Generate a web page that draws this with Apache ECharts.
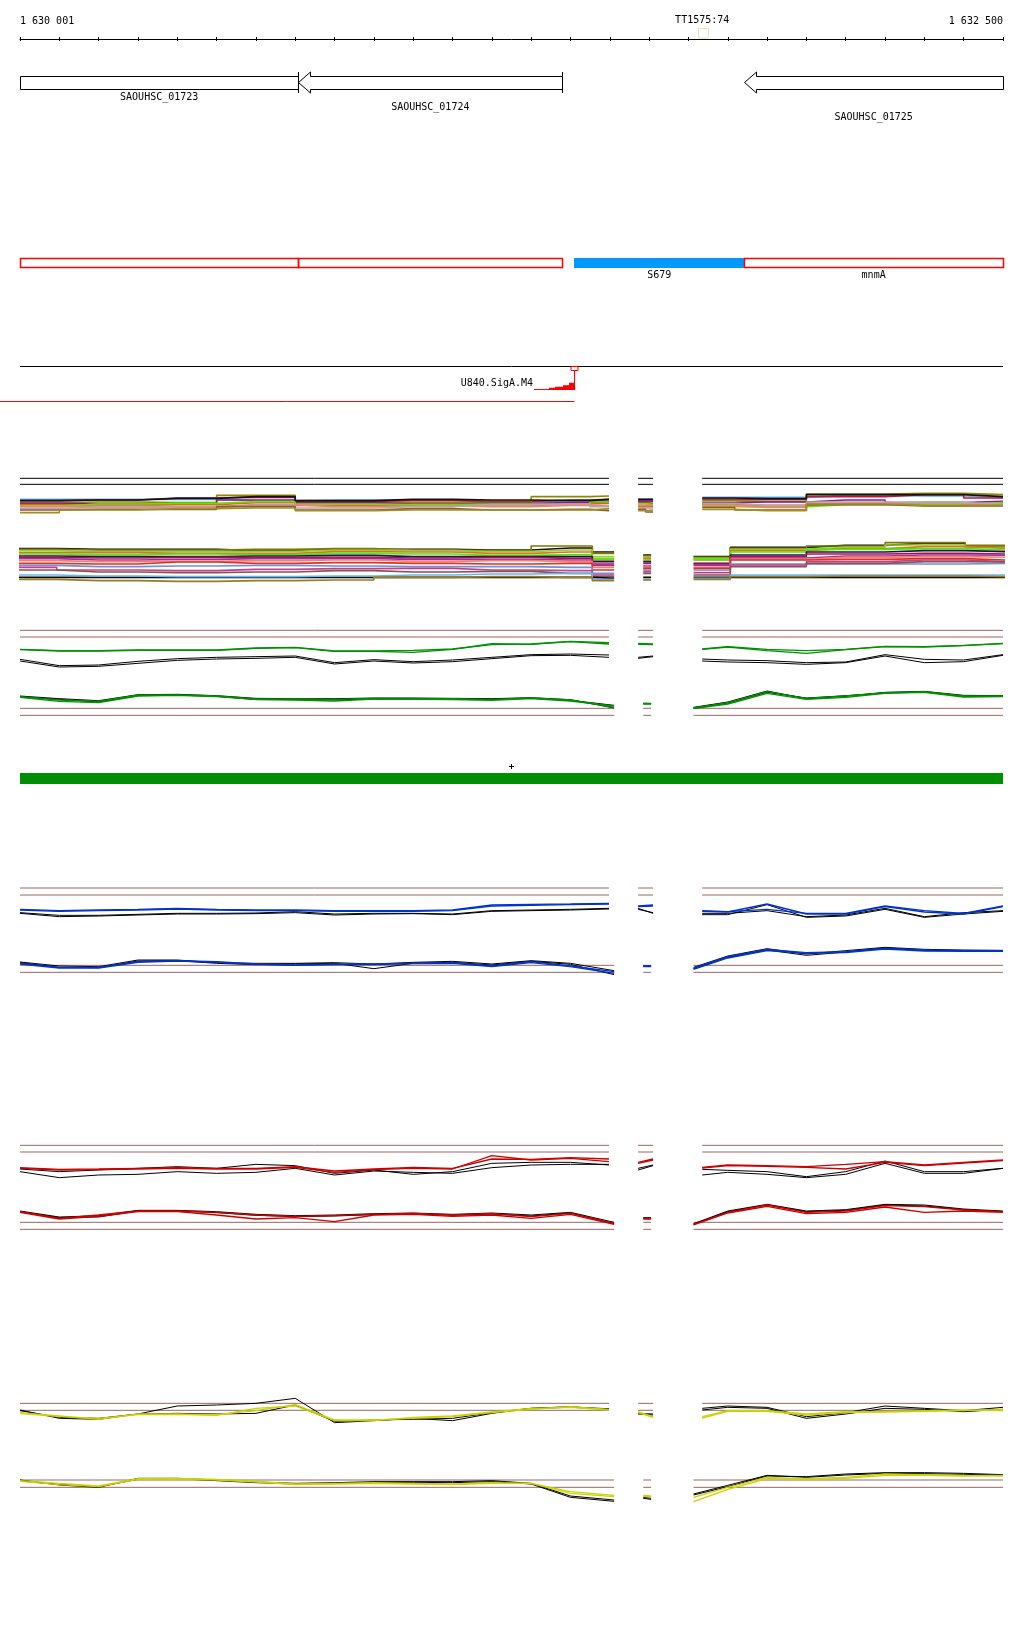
<!DOCTYPE html>
<html><head><meta charset="utf-8">
<script src="https://cdn.jsdelivr.net/npm/echarts/dist/echarts.min.js"></script>
<style>html,body{margin:0;padding:0;background:#fff}#c{width:1024px;height:1640px}</style>
</head><body><div id="c"></div><script>
// ---------- view ----------
const ORIGIN = 1630000;      // axis min (view starts at 1 630 001)
const VIEW_START = 1630001;
const VIEW_END = 1632500;
const TICK_STEP = 100;

// ---------- annotations ----------
const GENE_NAMES  = ['SAOUHSC_01723', 'SAOUHSC_01724', 'SAOUHSC_01725'];
const GENE_START  = [1629700, 1630708, 1631842];
const GENE_END    = [1630708, 1631379, 1632650];
const GENE_STRAND = ['-', '-', '-'];

const FEAT_NAMES = ['', '', 'S679', 'mnmA'];
const FEAT_START = [1629700, 1630708, 1631410, 1631842];
const FEAT_END   = [1630708, 1631379, 1631842, 1632650];
const FEAT_TYPE  = ['cds', 'cds', 'ncRNA', 'cds'];

const TT_NAME = 'TT1575:74';
const TT_POS = 1631735;

const SITE_NAME = 'U840.SigA.M4';
const SITE_POS = 1631408;
const SITE_STEP_BP = [1631308, 1631346, 1631361, 1631382, 1631395, 1631408];
const SITE_STEP_SCORE = [1, 2.3, 3.3, 4.7, 7.3];

// ---------- probe positions (offsets from ORIGIN), segments separated by gaps ----------
const UP_POS = [[0,100,200,300,400,500,600,700,800,900,1000,1100,1200,1300,1400,1498],[1572,1610],[1735,1800,1900,2000,2100,2200,2300,2400,2500]];
const LO_POS = [[0,100,200,300,400,500,600,700,800,900,1000,1100,1200,1300,1400,1511],[1585,1605],[1713,1800,1900,2000,2100,2200,2300,2400,2500]];
const REF_UP_SEGS = [[0,1498],[1572,1610],[1735,2500]];
const REF_LO_SEGS = [[0,1511],[1585,1605],[1713,2500]];
const MC_UP_POS = [[0,200,400,600,800,1000,1200,1400,1498],[1572,1610],[1735,1900,2100,2300,2500]];
const MC_LO_POS = [[-13,200,400,600,800,1000,1200,1400,1511],[1585,1605],[1713,1900,2100,2300,2508]];

// ---------- multi-condition track ----------
const MC_REF = [55, 73];
const MC_UP_COLORS = ['#5ab4f0','#c0143c','#8b8b00','#8b1a8b','#d2691e','#66e000','#f4806b','#b8a0b8','#8b5a2b','#a09020','#111111'];
const mcUp1  = [118,118,118,122,120,120,126,122,120, 118,117, 112,112,106,108,112];
const mcUp2  = [122,120,114,112,124,122,124,120,118, 120,120, 118,118,110,104,114];
const mcUp3  = [128,126,128,106,130,128,128,110,108, 128,130, 122,124,102,100,104];
const mcUp4  = [130,132,132,120,128,132,130,128,126, 124,124, 128,126,120,128,124];
const mcUp5  = [134,136,134,128,136,136,138,132,130, 140,140, 134,136,130,136,130];
const mcUp6  = [138,132,130,125,132,134,132,134,126, 132,134, 132,140,134,132,128];
const mcUp7  = [140,138,140,134,140,138,140,136,138, 136,136, 138,142,130,126,134];
const mcUp8  = [145,142,142,136,144,140,134,132,140, 144,144, 130,136,126,128,132];
const mcUp9  = [150,148,148,140,150,146,150,148,152, 148,156, 142,150,134,138,138];
const mcUp10 = [158,150,146,144,152,150,150,150,146, 152,150, 148,152,132,136,136];
const mcUp11 = [122,120,115,110,122,118,120,122,118, 118,118, 114,116,104,104,110];

const MC_LO_COLORS = ['#111111','#7a7a00','#9acd32','#e0702a','#44ee00','#1a1450','#b0104a','#9b30a0','#f08070','#e03020','#7090d0','#c04090','#8b5050','#000000','#66b8f0','#9a7a20'];
const mcLo1  = [266,268,268,272,268,268,270,264,276, 285,285, 290,262,256,250,258];
const mcLo2  = [268,270,270,268,266,270,272,258,280, 288,288, 292,265,258,248,256];
const mcLo3  = [272,275,275,274,270,272,275,270,290, 292,292, 295,268,262,255,262];
const mcLo4  = [278,278,280,280,275,276,280,276,300, 296,296, 300,272,266,260,265];
const mcLo5  = [282,284,282,284,280,282,286,284,296, 300,300, 298,276,268,266,270];
const mcLo6  = [288,290,290,288,286,290,290,290,305, 305,305, 310,285,276,272,275];
const mcLo7  = [292,294,292,292,292,294,292,295,312, 310,310, 312,290,282,280,282];
const mcLo8  = [296,300,298,296,296,298,298,300,316, 318,318, 316,294,288,285,286];
const mcLo9  = [302,305,304,302,300,304,302,305,322, 322,322, 322,298,292,290,292];
const mcLo10 = [310,312,306,310,308,310,312,310,330, 325,325, 325,300,298,296,300];
const mcLo11 = [316,320,318,316,318,320,320,322,340, 330,330, 330,312,312,312,310];
const mcLo12 = [322,330,332,328,326,325,330,332,345, 335,335, 338,315,305,300,305];
const mcLo13 = [330,336,338,336,332,336,334,340,350, 340,340, 345,320,310,305,306];
const mcLo14 = [352,352,352,352,352,352,352,352,355, 352,352, 352,352,352,352,352];
const mcLo15 = [345,348,350,350,348,345,342,340,358, 358,358, 355,345,345,345,345];
const mcLo16 = [358,362,364,362,360,352,350,352,362, 360,360, 358,350,348,348,350];

// ---------- green track ----------
const greenUpA  = [88,92,92,90,90,90,84,82,93,93,91,87,74,72,64,68, 70,72, 87,80,88,92,88,79,80,76,70];
const greenUpB  = [89,93,93,91,91,91,85,83,94,94,97,88,71,73,65,72, 73,74, 88,81,92,100,89,80,81,77,71];
const greenUpK1 = [118,137,135,124,116,112,110,108,128,119,125,120,112,104,102,105, 112,108, 117,120,122,128,126,104,118,120,104];
const greenUpK2 = [123,141,139,130,121,117,115,112,132,123,129,125,116,107,106,112, 115,110, 123,126,128,133,128,108,128,125,106];
const greenLoA  = [230,240,244,225,225,228,237,237,238,235,236,236,238,234,240,262, 250,251, 264,248,215,235,228,218,215,228,228];
const greenLoB  = [232,244,248,228,226,230,238,240,243,237,238,239,241,236,243,258, 252,252, 266,252,220,238,232,220,217,231,230];
const greenLoK1 = [228,236,242,224,223,227,235,236,236,234,234,235,236,233,239,264, 250,250, 262,246,213,236,229,217,214,226,227];
const greenLoK2 = [231,238,246,226,225,229,239,239,240,236,237,237,238,235,241,256, 251,251, 265,249,217,234,227,219,216,229,229];

// ---------- blue track ----------
const blueUpA  = [88,92,90,88,85,88,90,90,92,92,92,90,75,73,72,70, 78,75, 92,95,88,100,100,78,92,100,78];
const blueUpB  = [90,94,92,90,87,90,92,92,94,94,94,92,78,76,74,72, 80,78, 94,96,72,102,102,80,96,102,80];
const blueUpK1 = [98,106,106,103,100,100,99,95,102,100,100,102,92,90,88,85, 85,100, 100,100,92,110,105,85,110,98,92];
const blueUpK2 = [100,110,108,105,102,102,101,98,105,102,101,104,94,92,90,87, 88,98, 104,104,74,112,108,88,112,102,94];
const blueLoA  = [250,262,262,245,242,245,252,255,252,252,250,248,258,245,258,275, 258,258, 265,230,208,218,215,205,210,212,212];
const blueLoB  = [252,264,264,247,243,247,253,256,254,254,251,250,260,248,260,280, 260,260, 268,234,212,220,218,207,213,214,214];
const blueLoK1 = [246,258,260,240,240,248,250,250,248,252,247,244,252,242,250,272, 258,258, 262,228,206,222,212,202,208,210,211];
const blueLoK2 = [248,262,263,243,242,250,254,252,250,266,250,247,255,244,253,284, 259,259, 266,232,210,226,216,204,211,212,213];

// ---------- red track ----------
const redUpA  = [98,103,102,100,98,100,100,95,108,102,97,100,72,73,68,72, 85,75, 97,90,92,95,88,80,90,82,75];
const redUpB  = [100,105,104,102,100,102,102,97,112,104,100,102,62,75,70,80, 82,72, 99,92,94,97,102,82,92,84,77];
const redUpK1 = [102,110,105,100,95,100,88,92,115,105,118,110,85,82,82,90, 100,90, 103,106,110,125,110,78,110,110,100];
const redUpK2 = [110,128,120,118,110,115,112,100,120,108,112,115,98,90,88,88, 105,92, 120,112,118,128,118,85,115,115,100];
const redLoA  = [230,250,240,228,228,232,240,244,242,238,235,240,236,245,235,265, 250,250, 268,232,210,232,228,212,215,225,230];
const redLoB  = [232,252,244,230,230,240,252,248,260,240,238,244,240,250,238,268, 252,252, 270,234,214,236,232,216,232,228,232];
const redLoK1 = [228,246,242,226,226,230,238,242,240,236,234,238,234,240,232,262, 248,248, 266,228,208,228,224,208,210,222,228];
const redLoK2 = [231,248,246,228,228,233,241,245,243,239,236,241,237,243,234,266, 250,250, 268,230,210,230,226,210,213,224,230];

// ---------- yellow track ----------
const yelUpA  = [68,78,88,72,72,74,62,44,90,90,85,80,68,58,50,58, 65,80, 80,62,62,72,65,65,62,60,62];
const yelUpB  = [70,80,85,74,73,76,55,48,92,92,82,78,66,55,52,60, 68,82, 84,64,64,75,68,66,64,62,58];
const yelUpK1 = [60,85,88,72,48,45,40,25,98,92,85,92,70,55,50,58, 70,72, 55,48,52,80,68,48,55,62,52];
const yelUpK2 = [62,82,85,72,70,72,70,45,94,90,88,85,68,55,52,56, 72,75, 60,52,55,85,72,55,58,65,58];
const yelLoA  = [272,280,288,266,265,268,274,282,280,278,280,282,278,280,305,316, 316,318, 322,292,262,266,262,252,254,256,258];
const yelLoB  = [274,284,290,268,267,270,276,284,282,280,282,284,280,280,310,320, 320,320, 335,298,266,268,265,256,256,258,256];
const yelLoK1 = [270,285,292,265,265,270,276,280,278,275,275,275,272,280,318,330, 322,325, 315,290,258,260,252,248,248,250,254];
const yelLoK2 = [273,283,290,268,266,272,278,282,280,277,277,278,275,282,322,334, 325,328, 312,286,256,262,255,250,251,253,256];

// =====================================================================
const FONT = '10px "DejaVu Sans Mono", monospace';
const BROWN = '#996666';
const px = v => Math.round(v) + 0.5;

function segData(posSegs, vals) {
  const out = []; let k = 0;
  posSegs.forEach((seg, si) => {
    if (si > 0) { const prev = posSegs[si-1]; out.push([ORIGIN + (prev[prev.length-1] + seg[0]) / 2, '-']); }
    seg.forEach(p => out.push([ORIGIN + p, vals[k++]]));
  });
  return out;
}
function segParts(posSegs, vals) {
  const parts = []; let k = 0;
  posSegs.forEach(seg => { parts.push(seg.map(p => [ORIGIN + p, vals[k++]])); });
  return parts;
}
function refData(segs, v) {
  const out = [];
  segs.forEach((s, i) => {
    if (i > 0) out.push([ORIGIN + (segs[i-1][1] + s[0]) / 2, '-']);
    out.push([ORIGIN + s[0], v], [ORIGIN + s[1], v]);
  });
  return out;
}
function lineS(g, data, color, width, step, z) {
  return { type: 'line', xAxisIndex: g + 1, yAxisIndex: g, data, symbol: 'none', showSymbol: false,
    lineStyle: { color, width }, step: step || false, animation: false, silent: true, clip: false,
    connectNulls: false, z: z || 2, emphasis: { disabled: true } };
}
function text(t, x, y, align) {
  return { type: 'text', style: { text: t, x, y, font: FONT, fill: '#000',
    align: align || 'center', textAlign: align || 'center', verticalAlign: 'middle', textVerticalAlign: 'middle' } };
}

// ---------- custom renderers ----------
function renderGene(params, api) {
  const cs = params.coordSys, i = params.dataIndex;
  const L = cs.x, R = cs.x + cs.width;
  const xs = api.coord([api.value(0), 0])[0], xe = api.coord([api.value(1), 0])[0];
  const a = Math.max(xs, L), b = Math.min(xe, R);
  const yc = 82.5, bt = 76.5, bb = 89.5, ht = 72, hb = 93, H = 12;
  let pts;
  if (GENE_STRAND[i] === '-' && xs >= L) {
    const t = px(xs);
    pts = [[t, yc], [t + H, ht], [t + H, bt], [px(b), bt], [px(b), bb], [t + H, bb], [t + H, hb]];
  } else if (GENE_STRAND[i] === '+' && xe <= R) {
    const t = px(xe);
    pts = [[t, yc], [t - H, ht], [t - H, bt], [px(a), bt], [px(a), bb], [t - H, bb], [t - H, hb]];
  } else {
    pts = [[px(a), bt], [px(b), bt], [px(b), bb], [px(a), bb]];
  }
  const ch = [{ type: 'polygon', shape: { points: pts }, style: { fill: '#fff', stroke: '#000', lineWidth: 1 } }];
  if (xs >= L && xe <= R) {
    ch.push({ type: 'line', shape: { x1: px(xs), y1: ht, x2: px(xs), y2: hb }, style: { stroke: '#000', lineWidth: 1 } });
    ch.push({ type: 'line', shape: { x1: px(xe), y1: ht, x2: px(xe), y2: hb }, style: { stroke: '#000', lineWidth: 1 } });
  }
  ch.push(text(GENE_NAMES[i], (a + b) / 2, 97.7 + 9.8 * i));
  return { type: 'group', children: ch };
}
function renderFeat(params, api) {
  const cs = params.coordSys, i = params.dataIndex;
  const L = cs.x, R = cs.x + cs.width;
  const a = Math.max(api.coord([api.value(0), 0])[0], L), b = Math.min(api.coord([api.value(1), 0])[0], R);
  const ch = [];
  if (FEAT_TYPE[i] === 'ncRNA') {
    ch.push({ type: 'rect', shape: { x: Math.round(a), y: 258, width: Math.round(b) - Math.round(a), height: 10 }, style: { fill: '#0099ff' } });
  } else {
    ch.push({ type: 'rect', shape: { x: px(a), y: 258.5, width: Math.round(b) - Math.round(a), height: 9 }, style: { fill: 'rgba(0,0,0,0)', stroke: '#ff0000', lineWidth: 1.5 } });
  }
  if (FEAT_NAMES[i]) ch.push(text(FEAT_NAMES[i], (a + b) / 2, 275.5));
  return { type: 'group', children: ch };
}
function renderSite(params, api) {
  const cs = params.coordSys;
  const L = cs.x, R = cs.x + cs.width;
  const x = px(api.coord([SITE_POS, 0])[0]);
  const base = 390;
  const pts = [];
  const xsArr = SITE_STEP_BP.map(v => Math.round(api.coord([v, 0])[0]));
  pts.push([xsArr[0], base]);
  SITE_STEP_SCORE.forEach((s, k) => { pts.push([xsArr[k], base - s]); pts.push([xsArr[k + 1], base - s]); });
  pts.push([xsArr[xsArr.length - 1], base]);
  return { type: 'group', children: [
    { type: 'line', shape: { x1: L, y1: 366.5, x2: R, y2: 366.5 }, style: { stroke: '#000', lineWidth: 1 } },
    { type: 'polygon', shape: { points: pts }, style: { fill: '#ff0000' } },
    { type: 'line', shape: { x1: x, y1: 370, x2: x, y2: base }, style: { stroke: '#ff0000', lineWidth: 1 } },
    { type: 'rect', shape: { x: x - 3.5, y: 366.5, width: 7, height: 4 }, style: { fill: '#fff', stroke: '#ff0000', lineWidth: 1 } },
    { type: 'line', shape: { x1: 0, y1: 401.5, x2: x, y2: 401.5 }, style: { stroke: '#ff0000', lineWidth: 1 } },
    text(SITE_NAME, xsArr[0] - 1, 383.5, 'right')
  ] };
}
function renderTT(params, api) {
  const x = api.coord([TT_POS, 0])[0];
  return { type: 'group', children: [
    { type: 'rect', shape: { x: px(x) - 4, y: 28.5, width: 10, height: 9.5 }, style: { fill: '#fff', stroke: '#ffd8c8', lineWidth: 1 } },
    text(TT_NAME, x, 20.5)
  ] };
}
function renderStrand(params, api) {
  const a = api.coord([api.value(0), 0])[0], b = api.coord([api.value(1), 0])[0];
  const c = Math.round((a + b) / 2) - 1;
  return { type: 'group', children: [
    { type: 'rect', shape: { x: Math.round(a), y: 773, width: Math.round(b) - Math.round(a), height: 11 }, style: { fill: '#008f00' } },
    { type: 'line', shape: { x1: c - 2, y1: 766.5, x2: c + 3, y2: 766.5 }, style: { stroke: '#000', lineWidth: 1 } },
    { type: 'line', shape: { x1: c + 0.5, y1: 764, x2: c + 0.5, y2: 769 }, style: { stroke: '#000', lineWidth: 1 } }
  ] };
}

// ---------- build option ----------
const gridDefs = [
  { top: 38, height: 1 }, { top: 40, height: 760 }, { top: 460, height: 140 },
  { top: 620, height: 100 }, { top: 880, height: 100 }, { top: 1135, height: 100 }, { top: 1390, height: 120 }
];
const yMax = [1, 1, 420, 300, 300, 300, 360];
const grid = gridDefs.map(g => ({ left: 20, width: 983, top: g.top, height: g.height, containLabel: false }));

function fmtPos(v) {
  const s = String(v === ORIGIN ? VIEW_START : v);
  return s.replace(/\B(?=(\d{3})+(?!\d))/g, ' ');
}
const xAxis = [
  { type: 'value', gridIndex: 0, position: 'top', min: ORIGIN, max: VIEW_END, interval: TICK_STEP,
    axisLine: { lineStyle: { color: '#000', width: 1 } },
    axisTick: { length: 2, lineStyle: { color: '#000', width: 1 } },
    axisLabel: { interval: 0, margin: 12, color: '#000', fontFamily: '"DejaVu Sans Mono", monospace', fontSize: 10,
      showMinLabel: true, showMaxLabel: true, alignMinLabel: 'left', alignMaxLabel: 'right',
      formatter: v => (v === ORIGIN || v === VIEW_END) ? fmtPos(v) : '' },
    splitLine: { show: false } },
  { type: 'value', gridIndex: 0, position: 'bottom', min: ORIGIN, max: VIEW_END, interval: TICK_STEP,
    axisLine: { show: false }, axisTick: { length: 2, lineStyle: { color: '#000', width: 1 } },
    axisLabel: { show: false }, splitLine: { show: false } }
];
for (let g = 1; g < 7; g++) xAxis.push({ type: 'value', gridIndex: g, min: ORIGIN, max: VIEW_END, show: false });
const yAxis = yMax.map((m, g) => ({ type: 'value', gridIndex: g, min: 0, max: m, inverse: g >= 2, show: false }));

const series = [];
// annotations
series.push({ type: 'custom', xAxisIndex: 2, yAxisIndex: 1, clip: false, silent: true, animation: false, z: 5,
  data: GENE_NAMES.map((n, i) => [GENE_START[i], GENE_END[i]]), renderItem: renderGene });
series.push({ type: 'custom', xAxisIndex: 2, yAxisIndex: 1, clip: false, silent: true, animation: false, z: 5,
  data: FEAT_NAMES.map((n, i) => [FEAT_START[i], FEAT_END[i]]), renderItem: renderFeat });
series.push({ type: 'custom', xAxisIndex: 2, yAxisIndex: 1, clip: false, silent: true, animation: false, z: 5,
  data: [[SITE_POS, 0]], renderItem: renderSite });
series.push({ type: 'custom', xAxisIndex: 2, yAxisIndex: 1, clip: false, silent: true, animation: false, z: 5,
  data: [[TT_POS, 0]], renderItem: renderTT });
series.push({ type: 'custom', xAxisIndex: 2, yAxisIndex: 1, clip: false, silent: true, animation: false, z: 5,
  data: [[ORIGIN, VIEW_END]], renderItem: renderStrand });

// multi-condition track (each contiguous probe block is its own step line)
MC_REF.forEach(v => series.push(lineS(2, refData(REF_UP_SEGS, v), '#000', 1)));
[mcUp1, mcUp2, mcUp3, mcUp4, mcUp5, mcUp6, mcUp7, mcUp8, mcUp9, mcUp10, mcUp11].forEach((arr, i) =>
  segParts(MC_UP_POS, arr).forEach(part => series.push(lineS(2, part, MC_UP_COLORS[i], 1.6, 'middle'))));
[mcLo1, mcLo2, mcLo3, mcLo4, mcLo5, mcLo6, mcLo7, mcLo8, mcLo9, mcLo10, mcLo11, mcLo12, mcLo13, mcLo14, mcLo15, mcLo16].forEach((arr, i) =>
  segParts(MC_LO_POS, arr).forEach(part => series.push(lineS(2, part, MC_LO_COLORS[i], 1.6, 'middle'))));

// paired tracks
const TRACKS = [
  { g: 3, color: '#009000', refUp: [31, 51], refLo: [265, 286],
    upK: [greenUpK1, greenUpK2], up: [greenUpA, greenUpB], loK: [greenLoK1, greenLoK2], lo: [greenLoA, greenLoB] },
  { g: 4, color: '#0033cc', refUp: [24, 45], refLo: [256, 277],
    upK: [blueUpK1, blueUpK2], up: [blueUpA, blueUpB], loK: [blueLoK1, blueLoK2], lo: [blueLoA, blueLoB] },
  { g: 5, color: '#cc0000', refUp: [31, 51], refLo: [262, 283],
    upK: [redUpK1, redUpK2], up: [redUpA, redUpB], loK: [redLoK1, redLoK2], lo: [redLoA, redLoB] },
  { g: 6, color: '#c8d400', refUp: [40, 61], refLo: [270, 292],
    upK: [yelUpK1, yelUpK2], up: [yelUpA, yelUpB], loK: [yelLoK1, yelLoK2], lo: [yelLoA, yelLoB] }
];
TRACKS.forEach(t => {
  t.refUp.forEach(v => series.push(lineS(t.g, refData(REF_UP_SEGS, v), BROWN, 1)));
  t.refLo.forEach(v => series.push(lineS(t.g, refData(REF_LO_SEGS, v), BROWN, 1)));
  t.upK.forEach(a => series.push(lineS(t.g, segData(UP_POS, a), '#000', 1)));
  t.loK.forEach(a => series.push(lineS(t.g, segData(LO_POS, a), '#000', 1)));
  t.up.forEach(a => series.push(lineS(t.g, segData(UP_POS, a), t.color, 1.3, false, 3)));
  t.lo.forEach(a => series.push(lineS(t.g, segData(LO_POS, a), t.color, 1.3, false, 3)));
});

const chart = echarts.init(document.getElementById('c'), null, { renderer: 'canvas', width: 1024, height: 1640 });
chart.setOption({ backgroundColor: '#fff', animation: false, grid, xAxis, yAxis, series, tooltip: { show: false } });
</script></body></html>
